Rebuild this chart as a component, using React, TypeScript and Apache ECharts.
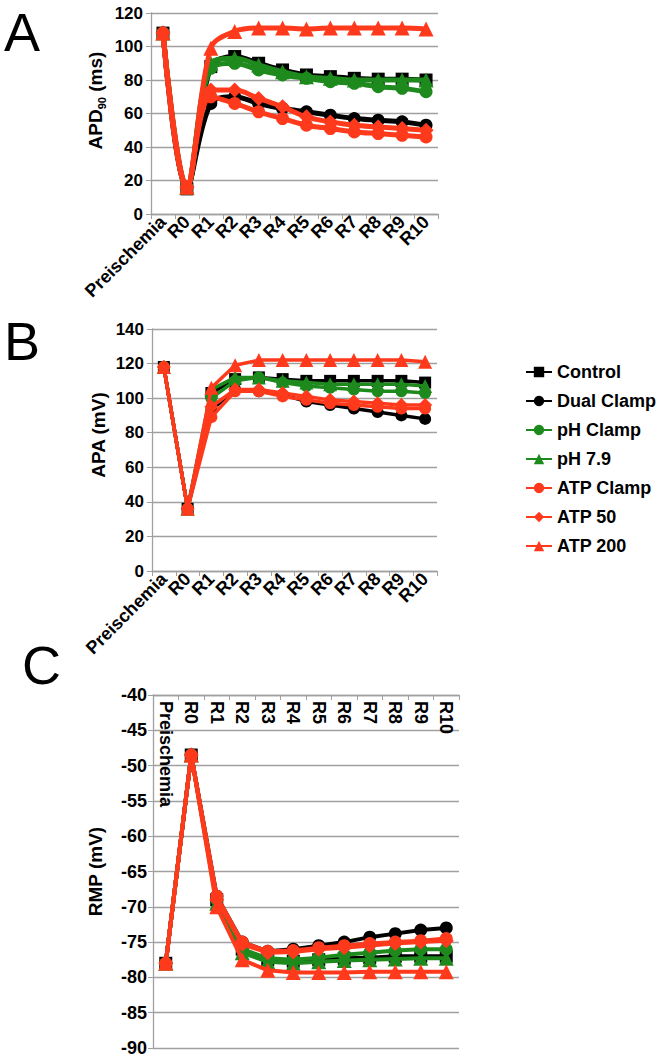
import React, { useEffect, useRef } from "react";
import * as echarts from "echarts";

const categories = ["Preischemia", "R0", "R1", "R2", "R3", "R4", "R5", "R6", "R7", "R8", "R9", "R10"];
const seriesNames = ["Control", "Dual Clamp", "pH Clamp", "pH 7.9", "ATP Clamp", "ATP 50", "ATP 200"];

// Panel A: APD90 (ms)
const apdControl = [108, 15, 88, 94, 90, 86, 83, 82, 81, 80.5, 80.5, 80];
const apdDual = [108, 16, 66, 70, 66, 63, 61, 59, 57, 56, 55, 53];
const apdPHClamp = [108, 16, 87, 90, 86, 83, 81, 79, 78, 76, 75, 73];
const apdPH79 = [108, 16, 90, 93, 89, 85, 82, 81, 80, 80, 80, 80];
const apdATPClamp = [108, 16, 70, 66, 61, 57, 53, 51, 49, 48, 47, 46];
const apdATP50 = [108, 16, 74, 74, 69, 64, 58, 55, 53, 52, 51, 50];
const apdATP200 = [108, 16, 99, 109, 111, 111, 110.5, 111, 111, 111, 111, 110.5];

// Panel B: APA (mV)
const apaControl = [118, 36, 103, 111, 112, 111, 110, 110, 110, 110, 110, 109];
const apaDual = [118, 36, 93, 105, 104, 102, 98, 96, 94, 92, 90, 88];
const apaPHClamp = [118, 36, 100, 110, 112, 109, 107, 106, 105, 104, 104, 103];
const apaPH79 = [118, 36, 105, 112, 112, 110, 109, 108, 108, 108, 108, 107];
const apaATPClamp = [118, 36, 89, 104, 104, 101, 99, 97, 96, 95, 94, 94];
const apaATP50 = [118, 36, 95, 105, 105, 103, 101, 99, 98, 97, 96, 96];
const apaATP200 = [118, 36, 106, 119, 122, 122, 122, 122, 122, 122, 122, 121];

// Panel C: RMP (mV)
const rmpControl = [-78, -48.5, -69, -76, -77.5, -77.7, -77.5, -77.3, -77.2, -77, -77, -77];
const rmpDual = [-78, -48.5, -68.5, -75, -76.3, -76, -75.5, -75, -74.3, -73.8, -73.3, -73];
const rmpPHClamp = [-78, -48.5, -69, -76, -77.3, -77.5, -77.2, -76.8, -76.5, -76.2, -76, -76];
const rmpPH79 = [-78, -48.5, -69.5, -76.5, -77.8, -78, -77.8, -77.6, -77.5, -77.4, -77.3, -77.3];
const rmpATPClamp = [-78, -48.5, -68.5, -75, -76.3, -76.2, -75.8, -75.5, -75.2, -75, -74.8, -74.5];
const rmpATP50 = [-78, -48.5, -69, -75.3, -76.5, -76.4, -76, -75.8, -75.5, -75.2, -75, -74.8];
const rmpATP200 = [-78, -48.5, -70, -77.5, -79, -79.3, -79.3, -79.3, -79.2, -79.2, -79.2, -79.2];

const apdData = [apdControl, apdDual, apdPHClamp, apdPH79, apdATPClamp, apdATP50, apdATP200];
const apaData = [apaControl, apaDual, apaPHClamp, apaPH79, apaATPClamp, apaATP50, apaATP200];
const rmpData = [rmpControl, rmpDual, rmpPHClamp, rmpPH79, rmpATPClamp, rmpATP50, rmpATP200];

const BLACK = "#000000";
const GREEN = "#1E8A1E";
const RED = "#FF3A1C";
const colors = [BLACK, BLACK, GREEN, GREEN, RED, RED, RED];
const symbols = ["rect", "circle", "circle", "triangle", "circle", "diamond", "triangle"];

const FONT = "Liberation Sans, Arial, Helvetica, sans-serif";
const GRID_COLOR = "#A0A0A0";

export default function App() {
  const ref = useRef<HTMLDivElement>(null);

  useEffect(() => {
    if (!ref.current) return;
    const chart = echarts.init(ref.current, null, { renderer: "svg" });

    const makeSeries = (data: number[][], idx: number, smooth: boolean, lw: number, ss: number) =>
      data.map((vals, i) => ({
        name: seriesNames[i],
        type: "line",
        xAxisIndex: idx,
        yAxisIndex: idx,
        data: vals,
        smooth: smooth ? 0.35 : false,
        symbol: symbols[i],
        symbolSize: symbols[i] === "triangle" || symbols[i] === "diamond" ? ss + 2 : ss,
        showSymbol: true,
        itemStyle: { color: colors[i] },
        lineStyle: { color: colors[i], width: lw },
        z: 2 + i,
      }));

    const yLabel = { color: "#000", fontWeight: "bold", fontSize: 17, fontFamily: FONT };
    const xLabel = { color: "#000", fontWeight: "bold", fontSize: 18, fontFamily: FONT };
    const axisLine = { show: true, lineStyle: { color: GRID_COLOR, width: 1.3 } };
    const splitLine = { show: true, lineStyle: { color: GRID_COLOR, width: 1.3 } };
    const nameStyle = { fontSize: 19, fontWeight: "bold", color: "#000", fontFamily: FONT };

    const option = {
      animation: false,
      textStyle: { fontFamily: FONT },
      legend: {
        data: seriesNames,
        orient: "vertical",
        left: 520,
        top: 358,
        itemWidth: 26,
        itemHeight: 13,
        itemGap: 11,
        textStyle: { fontSize: 18, fontWeight: "bold", color: "#000", fontFamily: FONT },
      },
      graphic: [
        { type: "text", left: 4, top: 5, style: { text: "A", fontSize: 54, fontFamily: FONT, fill: "#000" } },
        { type: "text", left: 4, top: 314, style: { text: "B", fontSize: 54, fontFamily: FONT, fill: "#000" } },
        { type: "text", left: 22, top: 638, style: { text: "C", fontSize: 54, fontFamily: FONT, fill: "#000" } },
      ],
      grid: [
        { left: 151, top: 13, width: 287, height: 201 },
        { left: 152, top: 329, width: 285, height: 242 },
        { left: 153, top: 695, width: 306, height: 353 },
      ],
      xAxis: [
        {
          type: "category", gridIndex: 0, data: categories, boundaryGap: true,
          axisLine, axisTick: { show: true, inside: false, length: 5, lineStyle: { color: GRID_COLOR } },
          axisLabel: { ...xLabel, rotate: 45, interval: 0, margin: 5 },
          splitLine: { show: false },
        },
        {
          type: "category", gridIndex: 1, data: categories, boundaryGap: true,
          axisLine, axisTick: { show: true, inside: false, length: 5, lineStyle: { color: GRID_COLOR } },
          axisLabel: { ...xLabel, rotate: 45, interval: 0, margin: 5 },
          splitLine: { show: false },
        },
        {
          type: "category", gridIndex: 2, data: categories, boundaryGap: true, position: "top",
          axisLine, axisTick: { show: true, inside: true, length: 5, lineStyle: { color: GRID_COLOR } },
          axisLabel: { ...xLabel, rotate: 90, interval: 0, inside: true, margin: 6 },
          splitLine: { show: false },
        },
      ],
      yAxis: [
        {
          type: "value", gridIndex: 0, min: 0, max: 120, interval: 20,
          name: "APD{sub|90} (ms)", nameLocation: "middle", nameGap: 44, nameRotate: 90,
          nameTextStyle: {
            ...nameStyle,
            padding: [0, 0, 0, 26],
            rich: { sub: { fontSize: 11, fontWeight: "bold", color: "#000", verticalAlign: "bottom", lineHeight: 24 } },
          },
          axisLine, axisTick: { show: true, length: 5, lineStyle: { color: GRID_COLOR } },
          axisLabel: { ...yLabel, margin: 8 }, splitLine,
        },
        {
          type: "value", gridIndex: 1, min: 0, max: 140, interval: 20,
          name: "APA (mV)", nameLocation: "middle", nameGap: 44, nameRotate: 90,
          nameTextStyle: { ...nameStyle, padding: [0, 0, 0, 30] },
          axisLine, axisTick: { show: true, length: 5, lineStyle: { color: GRID_COLOR } },
          axisLabel: { ...yLabel, margin: 8 }, splitLine,
        },
        {
          type: "value", gridIndex: 2, min: -90, max: -40, interval: 5,
          name: "RMP (mV)", nameLocation: "middle", nameGap: 48, nameRotate: 90,
          nameTextStyle: nameStyle,
          axisLine, axisTick: { show: true, length: 5, lineStyle: { color: GRID_COLOR } },
          axisLabel: { ...yLabel, fontSize: 18, margin: 6 }, splitLine,
        },
      ],
      series: [
        ...makeSeries(apdData, 0, true, 5, 13),
        ...makeSeries(apaData, 1, false, 3.5, 12),
        ...makeSeries(rmpData, 2, false, 4, 13),
      ],
    };

    chart.setOption(option as any);
    return () => chart.dispose();
  }, []);

  return (
    <div
      ref={ref}
      style={{ position: "fixed", left: 0, top: 0, width: 656, height: 1061, background: "#fff" }}
    />
  );
}
